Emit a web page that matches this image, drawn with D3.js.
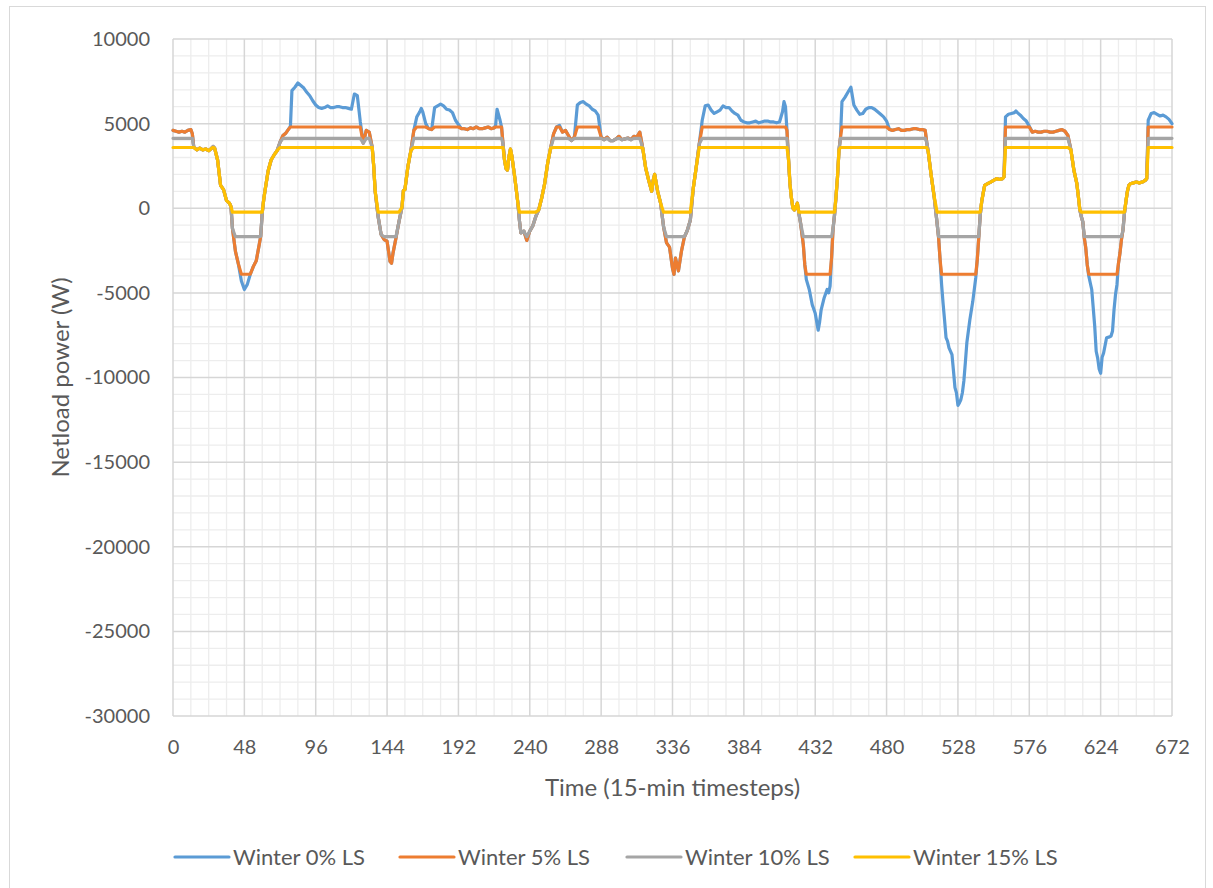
<!DOCTYPE html>
<html>
<head>
<meta charset="utf-8">
<script src="https://cdn.jsdelivr.net/npm/d3@7/dist/d3.min.js"></script>
<style>
  html, body { margin: 0; padding: 0; background: #ffffff; }
  svg { display: block; }
  text { font-family: Lato, "Liberation Sans", Arial, sans-serif; fill: #595959; }
</style>
</head>
<body>
<svg id="chart" width="1213" height="888"></svg>
<script>
// ---------------- data ----------------
const seriesNames = ["Winter 0% LS", "Winter 5% LS", "Winter 10% LS", "Winter 15% LS"];
const xTickValues = [0, 48, 96, 144, 192, 240, 288, 336, 384, 432, 480, 528, 576, 624, 672];
const yTickValues = [10000, 5000, 0, -5000, -10000, -15000, -20000, -25000, -30000];

const timesteps = [
  0,2,4,6,8,10,12,13,14,16,18,20,22,24,26,27,28,30,32,34,36,38,39,
  40,42,44,46,48,50,52,54,56,58,59,60,61,62,64,66,68,70,72,74,76,78,79,
  80,82,84,86,88,90,92,94,96,98,100,102,104,106,108,110,112,114,116,118,120,122,124,126,128,130,132,134,
  135,136,138,140,142,144,146,147,148,150,152,154,155,156,158,160,162,
  164,166,167,168,170,172,174,176,178,180,182,184,186,188,190,192,194,196,198,200,202,204,206,208,210,212,214,216,217,218,220,221,
  222,223,224,225,226,227,228,230,232,233,234,236,238,240,242,244,246,248,250,252,254,
  256,258,260,262,264,266,268,270,272,274,276,278,280,282,284,286,288,290,292,294,296,298,300,302,304,306,308,310,312,314,
  316,318,320,322,323,324,326,328,330,332,334,336,337,338,340,342,344,346,348,350,352,354,
  356,358,360,362,364,366,368,370,372,374,376,378,380,382,384,386,388,390,392,394,396,398,400,402,404,406,408,410,411,412,413,
  414,415,416,417,418,419,420,421,422,424,425,426,428,430,432,434,435,436,438,440,441,442,443,444,445,446,447,448,449,
  450,452,454,456,458,460,462,464,466,468,470,472,474,476,478,480,482,484,486,488,490,492,494,496,498,500,502,504,506,
  507,508,510,512,514,515,516,517,518,519,520,521,522,524,525,526,527,528,529,530,531,532,533,534,536,538,540,541,542,543,544,545,546,
  548,550,552,554,556,558,559,560,562,564,566,567,568,570,572,574,576,578,580,582,584,586,588,590,592,594,596,598,600,602,
  604,605,606,607,608,609,610,611,612,613,614,615,616,617,618,620,621,622,623,624,625,626,628,630,631,632,633,634,635,636,637,638,639,640,641,642,643,644,646,648,650,652,654,655,
  656,658,660,662,664,666,668,670,672
];

const winter0 = [
  4600,4550,4500,4550,4500,4600,4650,4400,3600,3450,3550,3450,3500,3400,3550,3650,3550,2850,1350,1100,450,300,100,
  -1200,-2550,-3300,-4300,-4800,-4500,-3900,-3450,-3100,-2150,-1650,-300,500,1100,2200,2850,3150,3400,3900,4300,4450,4700,4850,
  6950,7150,7400,7250,7100,6850,6650,6350,6100,5950,5900,5950,6050,5950,5950,6000,6000,5950,5950,5900,5850,6750,6650,5100,3850,4600,4500,3600,
  2500,1000,-500,-1550,-1850,-1950,-3150,-3250,-2650,-1750,-800,50,1050,1100,2450,3400,4600,
  5400,5700,5900,5700,5000,4700,4650,5950,6050,6150,6050,5850,5800,5650,5200,4950,4700,4700,4650,4750,4700,4800,4700,4700,4750,4800,4700,4750,4900,5850,5200,4800,
  3800,2850,2350,2250,3050,3500,3050,1750,300,-700,-1450,-1350,-1900,-1350,-1050,-500,-100,600,1450,2650,3550,
  4400,4800,4900,4500,4600,4300,4000,4200,6100,6250,6300,6150,6050,5850,5750,5500,4200,4050,4200,4000,4000,4100,4250,4050,4100,4150,4050,4250,4200,4500,
  3550,2350,1650,1000,1650,2000,1000,300,-1100,-2050,-2300,-3550,-3900,-2950,-3700,-2550,-1700,-1300,-700,1200,2450,3800,
  5200,6050,6100,5800,5600,5700,5800,6050,5950,5950,5750,5600,5500,5200,5100,5050,5050,5100,5150,5050,5100,5150,5150,5100,5100,5050,5100,5700,6300,6000,4600,
  2950,1450,600,0,-100,100,300,-300,-800,-2150,-3350,-4200,-4800,-5700,-6200,-7200,-6700,-6000,-5300,-4800,-5000,-4600,-2950,-1200,-400,700,1850,3450,4200,
  6300,6550,6850,7150,6100,5800,5550,5600,5850,5950,5950,5850,5700,5550,5400,5150,4650,4600,4650,4700,4600,4600,4650,4650,4700,4700,4650,4650,4600,
  3900,3350,1950,700,-900,-1750,-3050,-4500,-5600,-6600,-7650,-7850,-8250,-8650,-9600,-10600,-10900,-11650,-11500,-11300,-10900,-10200,-9100,-7950,-6600,-5500,-4100,-3050,-1750,-400,400,900,1350,
  1450,1550,1650,1750,1700,1750,1850,5400,5550,5600,5650,5750,5650,5500,5300,5150,4850,4500,4550,4500,4500,4550,4550,4500,4500,4550,4600,4650,4550,4300,
  3450,2850,2250,1850,1450,700,-100,-500,-800,-1750,-2350,-3350,-4000,-4400,-4800,-6950,-8450,-8850,-9500,-9750,-8800,-8550,-7650,-7600,-7550,-7250,-6000,-5100,-4500,-3250,-2650,-1850,-1300,-300,400,1000,1350,1450,1500,1550,1500,1550,1650,1750,
  5200,5600,5650,5550,5450,5500,5400,5250,5000
];

const winter5 = [
  4600,4550,4500,4550,4500,4600,4650,4400,3600,3450,3550,3450,3500,3400,3550,3650,3550,2850,1350,1100,450,300,100,
  -1200,-2550,-3300,-3900,-3900,-3900,-3900,-3450,-3100,-2150,-1650,-300,500,1100,2200,2850,3150,3400,3900,4300,4450,4700,4800,
  4800,4800,4800,4800,4800,4800,4800,4800,4800,4800,4800,4800,4800,4800,4800,4800,4800,4800,4800,4800,4800,4800,4800,4800,3850,4600,4500,3600,
  2500,1000,-500,-1550,-1850,-1950,-3150,-3250,-2650,-1750,-800,50,1050,1100,2450,3400,4600,
  4800,4800,4800,4800,4800,4700,4650,4800,4800,4800,4800,4800,4800,4800,4800,4800,4700,4700,4650,4750,4700,4800,4700,4700,4750,4800,4700,4750,4800,4800,4800,4800,
  3800,2850,2350,2250,3050,3500,3050,1750,300,-700,-1450,-1350,-1900,-1350,-1050,-500,-100,600,1450,2650,3550,
  4400,4800,4800,4500,4600,4300,4000,4200,4800,4800,4800,4800,4800,4800,4800,4800,4200,4050,4200,4000,4000,4100,4250,4050,4100,4150,4050,4250,4200,4500,
  3550,2350,1650,1000,1650,2000,1000,300,-1100,-2050,-2300,-3550,-3900,-2950,-3700,-2550,-1700,-1300,-700,1200,2450,3800,
  4800,4800,4800,4800,4800,4800,4800,4800,4800,4800,4800,4800,4800,4800,4800,4800,4800,4800,4800,4800,4800,4800,4800,4800,4800,4800,4800,4800,4800,4800,4600,
  2950,1450,600,0,-100,100,300,-300,-800,-2150,-3350,-3900,-3900,-3900,-3900,-3900,-3900,-3900,-3900,-3900,-3900,-3900,-2950,-1200,-400,700,1850,3450,4200,
  4800,4800,4800,4800,4800,4800,4800,4800,4800,4800,4800,4800,4800,4800,4800,4800,4650,4600,4650,4700,4600,4600,4650,4650,4700,4700,4650,4650,4600,
  3900,3350,1950,700,-900,-1750,-3050,-3900,-3900,-3900,-3900,-3900,-3900,-3900,-3900,-3900,-3900,-3900,-3900,-3900,-3900,-3900,-3900,-3900,-3900,-3900,-3900,-3050,-1750,-400,400,900,1350,
  1450,1550,1650,1750,1700,1750,1850,4800,4800,4800,4800,4800,4800,4800,4800,4800,4800,4500,4550,4500,4500,4550,4550,4500,4500,4550,4600,4650,4550,4300,
  3450,2850,2250,1850,1450,700,-100,-500,-800,-1750,-2350,-3350,-3900,-3900,-3900,-3900,-3900,-3900,-3900,-3900,-3900,-3900,-3900,-3900,-3900,-3900,-3900,-3900,-3900,-3250,-2650,-1850,-1300,-300,400,1000,1350,1450,1500,1550,1500,1550,1650,1750,
  4800,4800,4800,4800,4800,4800,4800,4800,4800
];

const winter10 = [
  4130,4130,4130,4130,4130,4130,4130,4130,3600,3450,3550,3450,3500,3400,3550,3650,3550,2850,1350,1100,450,300,100,
  -1200,-1680,-1680,-1680,-1680,-1680,-1680,-1680,-1680,-1680,-1650,-300,500,1100,2200,2850,3150,3400,3900,4130,4130,4130,4130,
  4130,4130,4130,4130,4130,4130,4130,4130,4130,4130,4130,4130,4130,4130,4130,4130,4130,4130,4130,4130,4130,4130,4130,4130,3850,4130,4130,3600,
  2500,1000,-500,-1550,-1680,-1680,-1680,-1680,-1680,-1680,-800,50,1050,1100,2450,3400,4130,
  4130,4130,4130,4130,4130,4130,4130,4130,4130,4130,4130,4130,4130,4130,4130,4130,4130,4130,4130,4130,4130,4130,4130,4130,4130,4130,4130,4130,4130,4130,4130,4130,
  3800,2850,2350,2250,3050,3500,3050,1750,300,-700,-1450,-1350,-1680,-1350,-1050,-500,-100,600,1450,2650,3550,
  4130,4130,4130,4130,4130,4130,4000,4130,4130,4130,4130,4130,4130,4130,4130,4130,4130,4050,4130,4000,4000,4100,4130,4050,4100,4130,4050,4130,4130,4130,
  3550,2350,1650,1000,1650,2000,1000,300,-1100,-1680,-1680,-1680,-1680,-1680,-1680,-1680,-1680,-1300,-700,1200,2450,3800,
  4130,4130,4130,4130,4130,4130,4130,4130,4130,4130,4130,4130,4130,4130,4130,4130,4130,4130,4130,4130,4130,4130,4130,4130,4130,4130,4130,4130,4130,4130,4130,
  2950,1450,600,0,-100,100,300,-300,-800,-1680,-1680,-1680,-1680,-1680,-1680,-1680,-1680,-1680,-1680,-1680,-1680,-1680,-1680,-1200,-400,700,1850,3450,4130,
  4130,4130,4130,4130,4130,4130,4130,4130,4130,4130,4130,4130,4130,4130,4130,4130,4130,4130,4130,4130,4130,4130,4130,4130,4130,4130,4130,4130,4130,
  3900,3350,1950,700,-900,-1680,-1680,-1680,-1680,-1680,-1680,-1680,-1680,-1680,-1680,-1680,-1680,-1680,-1680,-1680,-1680,-1680,-1680,-1680,-1680,-1680,-1680,-1680,-1680,-400,400,900,1350,
  1450,1550,1650,1750,1700,1750,1850,4130,4130,4130,4130,4130,4130,4130,4130,4130,4130,4130,4130,4130,4130,4130,4130,4130,4130,4130,4130,4130,4130,4130,
  3450,2850,2250,1850,1450,700,-100,-500,-800,-1680,-1680,-1680,-1680,-1680,-1680,-1680,-1680,-1680,-1680,-1680,-1680,-1680,-1680,-1680,-1680,-1680,-1680,-1680,-1680,-1680,-1680,-1680,-1300,-300,400,1000,1350,1450,1500,1550,1500,1550,1650,1750,
  4130,4130,4130,4130,4130,4130,4130,4130,4130
];

const winter15 = [
  3590,3590,3590,3590,3590,3590,3590,3590,3590,3450,3550,3450,3500,3400,3550,3590,3550,2850,1350,1100,450,300,100,
  -230,-230,-230,-230,-230,-230,-230,-230,-230,-230,-230,-230,500,1100,2200,2850,3150,3400,3590,3590,3590,3590,3590,
  3590,3590,3590,3590,3590,3590,3590,3590,3590,3590,3590,3590,3590,3590,3590,3590,3590,3590,3590,3590,3590,3590,3590,3590,3590,3590,3590,3590,
  2500,1000,-230,-230,-230,-230,-230,-230,-230,-230,-230,50,1050,1100,2450,3400,3590,
  3590,3590,3590,3590,3590,3590,3590,3590,3590,3590,3590,3590,3590,3590,3590,3590,3590,3590,3590,3590,3590,3590,3590,3590,3590,3590,3590,3590,3590,3590,3590,3590,
  3590,2850,2350,2250,3050,3500,3050,1750,300,-230,-230,-230,-230,-230,-230,-230,-100,600,1450,2650,3550,
  3590,3590,3590,3590,3590,3590,3590,3590,3590,3590,3590,3590,3590,3590,3590,3590,3590,3590,3590,3590,3590,3590,3590,3590,3590,3590,3590,3590,3590,3590,
  3550,2350,1650,1000,1650,2000,1000,300,-230,-230,-230,-230,-230,-230,-230,-230,-230,-230,-230,1200,2450,3590,
  3590,3590,3590,3590,3590,3590,3590,3590,3590,3590,3590,3590,3590,3590,3590,3590,3590,3590,3590,3590,3590,3590,3590,3590,3590,3590,3590,3590,3590,3590,3590,
  2950,1450,600,0,-100,100,300,-230,-230,-230,-230,-230,-230,-230,-230,-230,-230,-230,-230,-230,-230,-230,-230,-230,-230,700,1850,3450,3590,
  3590,3590,3590,3590,3590,3590,3590,3590,3590,3590,3590,3590,3590,3590,3590,3590,3590,3590,3590,3590,3590,3590,3590,3590,3590,3590,3590,3590,3590,
  3590,3350,1950,700,-230,-230,-230,-230,-230,-230,-230,-230,-230,-230,-230,-230,-230,-230,-230,-230,-230,-230,-230,-230,-230,-230,-230,-230,-230,-230,400,900,1350,
  1450,1550,1650,1750,1700,1750,1850,3590,3590,3590,3590,3590,3590,3590,3590,3590,3590,3590,3590,3590,3590,3590,3590,3590,3590,3590,3590,3590,3590,3590,
  3450,2850,2250,1850,1450,700,-100,-230,-230,-230,-230,-230,-230,-230,-230,-230,-230,-230,-230,-230,-230,-230,-230,-230,-230,-230,-230,-230,-230,-230,-230,-230,-230,-230,400,1000,1350,1450,1500,1550,1500,1550,1650,1750,
  3590,3590,3590,3590,3590,3590,3590,3590,3590
];

const seriesColors = ["#5B9BD5", "#ED7D31", "#A5A5A5", "#FFC000"];

// ---------------- drawing ----------------
const svg = d3.select("#chart");
const plot = { left: 173, right: 1172, top: 39, bottom: 716 };

const x = d3.scaleLinear().domain([0, 672]).range([plot.left, plot.right]);
const y = d3.scaleLinear().domain([-30000, 10000]).range([plot.bottom, plot.top]);

// chart border
svg.append("rect")
  .attr("x", 9.5).attr("y", 6.5)
  .attr("width", 1196).attr("height", 900)
  .attr("fill", "#ffffff").attr("stroke", "#D9D9D9").attr("stroke-width", 1);

// minor gridlines
const gMinor = svg.append("g");
gMinor.selectAll("line.vx").data(d3.range(0, 673, 12).filter(v => v % 48 !== 0)).join("line")
  .attr("x1", d => x(d)).attr("x2", d => x(d))
  .attr("y1", plot.top).attr("y2", plot.bottom)
  .attr("stroke", "#EDEDED").attr("stroke-width", 1.3);
gMinor.selectAll("line.hy").data(d3.range(-30000, 10001, 1000).filter(v => v % 5000 !== 0)).join("line")
  .attr("y1", d => y(d)).attr("y2", d => y(d))
  .attr("x1", plot.left).attr("x2", plot.right)
  .attr("stroke", "#EDEDED").attr("stroke-width", 1.3);

// major gridlines
const gMajor = svg.append("g");
gMajor.selectAll("line.vx").data(xTickValues).join("line")
  .attr("x1", d => x(d)).attr("x2", d => x(d))
  .attr("y1", plot.top).attr("y2", plot.bottom)
  .attr("stroke", "#D6D6D6").attr("stroke-width", 1.5);
gMajor.selectAll("line.hy").data(yTickValues).join("line")
  .attr("y1", d => y(d)).attr("y2", d => y(d))
  .attr("x1", plot.left).attr("x2", plot.right)
  .attr("stroke", "#D6D6D6").attr("stroke-width", 1.5);

// axes (labels only)
const plainFormat = d => String(d);
const yAxis = d3.axisLeft(y).tickValues(yTickValues).tickSize(0).tickPadding(23).tickFormat(plainFormat);
const gy = svg.append("g").attr("transform", `translate(${plot.left},0)`).call(yAxis);
gy.select(".domain").remove();
gy.selectAll("text").style("font-size", "20px").attr("fill", "#595959");

const xAxis = d3.axisBottom(x).tickValues(xTickValues).tickSize(0).tickPadding(24).tickFormat(plainFormat);
const gx = svg.append("g").attr("transform", `translate(0,${plot.bottom})`).call(xAxis);
gx.select(".domain").remove();
gx.selectAll("text").style("font-size", "20px").attr("fill", "#595959");

// axis titles
svg.append("text")
  .attr("x", (plot.left + plot.right) / 2).attr("y", 796)
  .attr("text-anchor", "middle").style("font-size", "24px")
  .text("Time (15-min timesteps)");
svg.append("text")
  .attr("transform", `translate(69,${(plot.top + plot.bottom) / 2}) rotate(-90)`)
  .attr("text-anchor", "middle").style("font-size", "24px")
  .text("Netload power (W)");

// series
const allSeries = [winter0, winter5, winter10, winter15];
const line = d3.line()
  .x(d => x(d.t))
  .y(d => y(d.v));

allSeries.forEach((vals, i) => {
  if (vals.length !== timesteps.length) console.error("length mismatch", seriesNames[i], vals.length, timesteps.length);
  const pts = timesteps.map((t, k) => ({ t: t, v: vals[k] }));
  svg.append("path")
    .datum(pts)
    .attr("fill", "none")
    .attr("stroke", seriesColors[i])
    .attr("stroke-width", 3.2)
    .attr("stroke-linejoin", "round")
    .attr("stroke-linecap", "round")
    .attr("d", line);
});

// legend
const legendItems = [
  { name: seriesNames[0], color: seriesColors[0], x: 175 },
  { name: seriesNames[1], color: seriesColors[1], x: 400 },
  { name: seriesNames[2], color: seriesColors[2], x: 627 },
  { name: seriesNames[3], color: seriesColors[3], x: 855 }
];
const gLeg = svg.append("g");
legendItems.forEach(it => {
  gLeg.append("line")
    .attr("x1", it.x).attr("x2", it.x + 54)
    .attr("y1", 857).attr("y2", 857)
    .attr("stroke", it.color).attr("stroke-width", 3.2).attr("stroke-linecap", "round");
  gLeg.append("text")
    .attr("x", it.x + 58).attr("y", 865)
    .style("font-size", "22px")
    .text(it.name);
});
</script>
</body>
</html>
